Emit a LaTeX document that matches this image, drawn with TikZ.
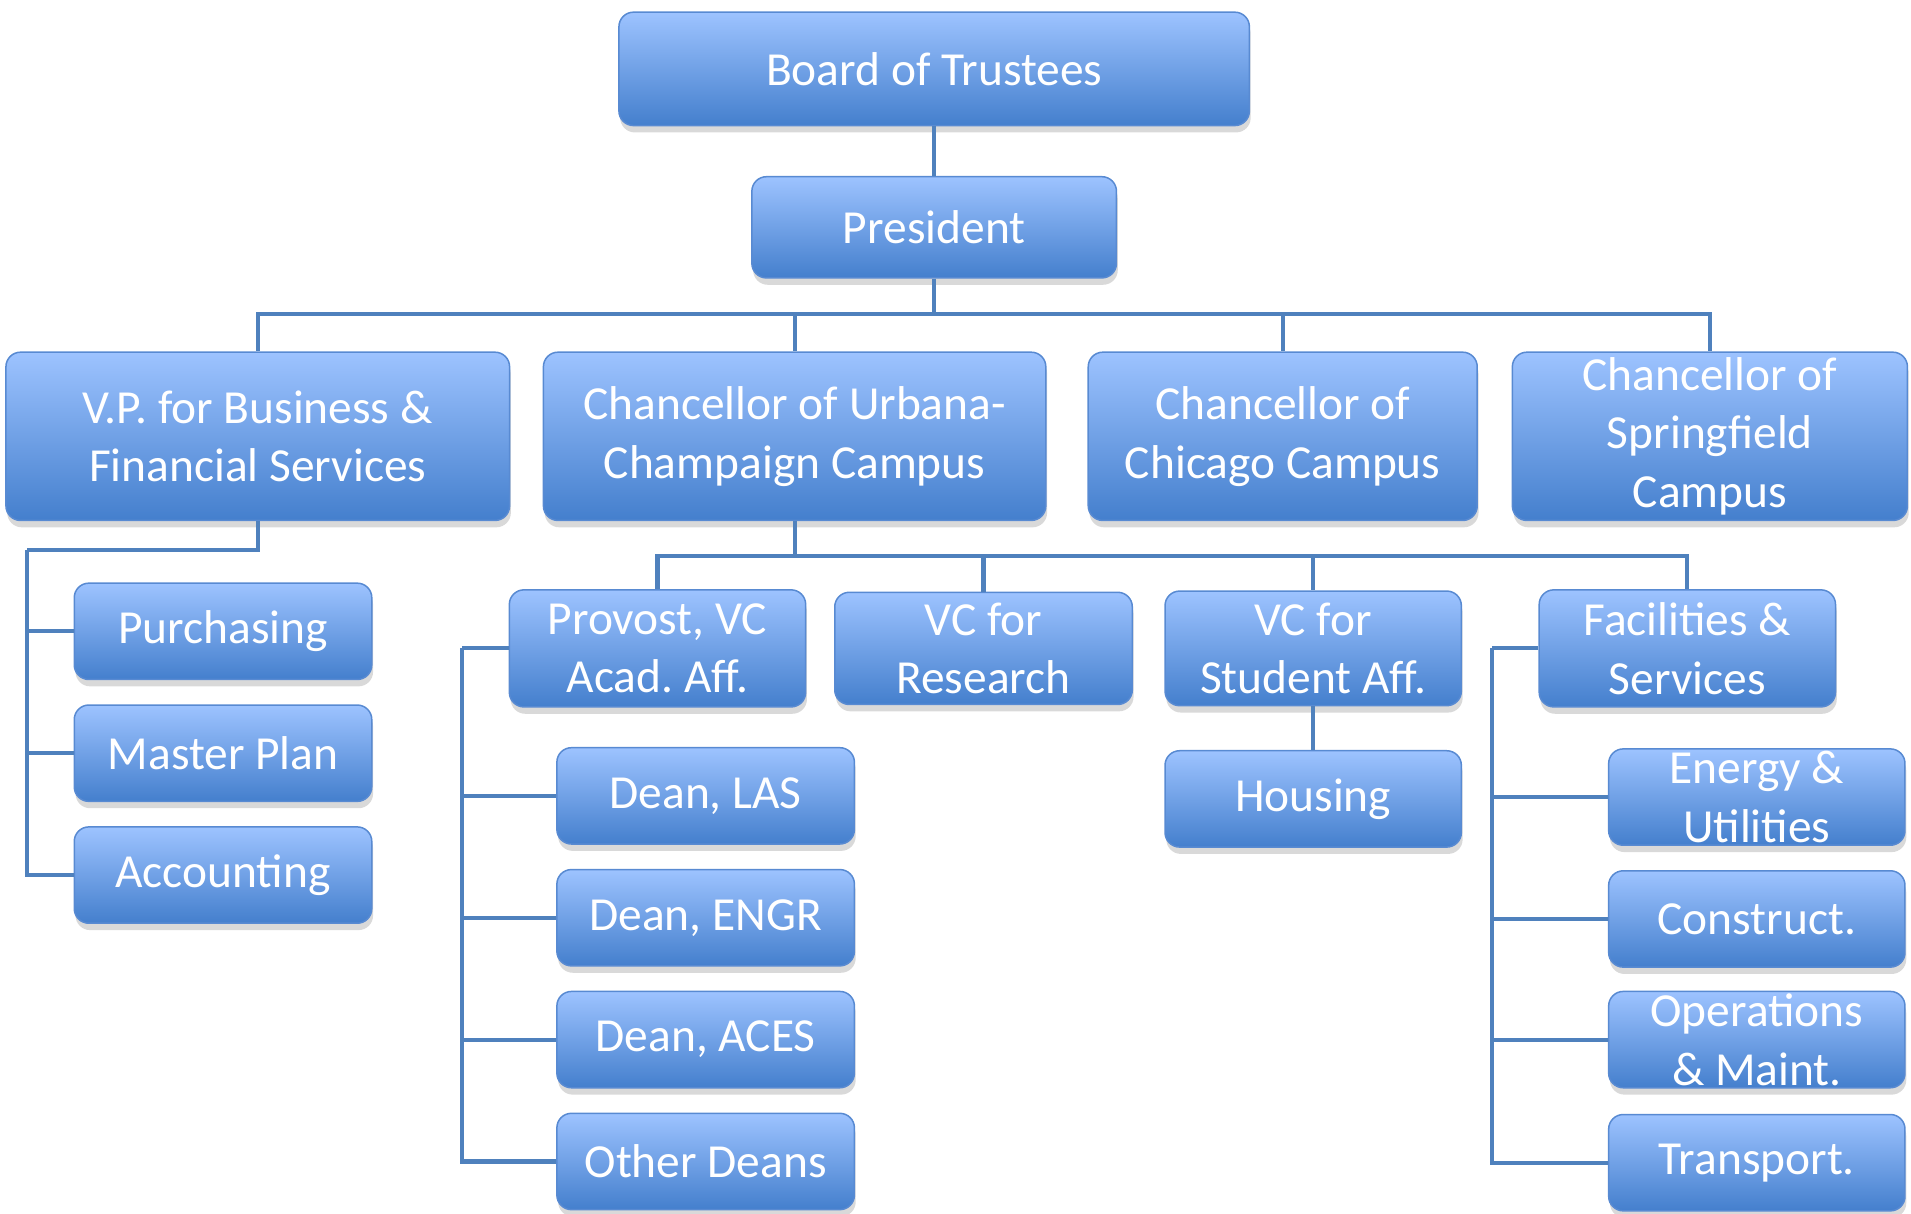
\documentclass[tikz,border=0pt]{standalone}
\usepackage{fontspec}
\setmainfont{Carlito}
\usepackage{tikz}
\usepackage{xcolor}
\usetikzlibrary{positioning, calc, shadows}
\frenchspacing

\definecolor{boxtop}{RGB}{157,195,255}
\definecolor{boxbot}{RGB}{68,127,205}
\definecolor{boxline}{RGB}{88,138,210}
\definecolor{linkblue}{RGB}{79,129,189}

\tikzset{
  unit/.style={rectangle, rounded corners=3.4pt, draw=boxline, line width=0.35pt,
    top color=boxtop, bottom color=boxbot, text=white, align=center,
    font=\fontsize{11.07pt}{13.7pt}\selectfont, inner sep=0pt,
    drop shadow={shadow xshift=0.3pt, shadow yshift=-1.6pt, opacity=0.15, fill=black}},
  link/.style={draw=linkblue, line width=0.95pt}
}

\begin{document}
\begin{tikzpicture}[x=0.01cm, y=-0.01cm]
\useasboundingbox (0,0) rectangle (1568,996);

% Top of the chart
\node[unit, minimum width=5.17cm, minimum height=0.93cm] (trust) at (766.5,56.5) {Board of Trustees};
\node[unit, minimum width=2.99cm, minimum height=0.83cm] (pres) at (766.5,186.5) {President};

% Second level
\node[unit, minimum width=4.13cm, minimum height=1.38cm] (vpbus) at (211.5,358) {V.P. for Business \&\\Financial Services};
\node[unit, minimum width=4.12cm, minimum height=1.38cm] (urbana) at (652,358) {Chancellor of Urbana-\\Champaign Campus};
\node[unit, minimum width=3.19cm, minimum height=1.38cm] (chicago) at (1052.5,358) {Chancellor of\\Chicago Campus};
\node[unit, minimum width=3.24cm, minimum height=1.38cm] (spring) at (1403,358) {Chancellor of\\Springfield\\Campus};

% Business & financial services
\node[unit, minimum width=2.44cm, minimum height=0.79cm] (purch) at (183,518) {Purchasing};
\node[unit, minimum width=2.44cm, minimum height=0.79cm] (master) at (183,618) {Master Plan};
\node[unit, minimum width=2.44cm, minimum height=0.79cm] (account) at (183,718) {Accounting};

% Urbana-Champaign
\node[unit, minimum width=2.43cm, minimum height=0.96cm] (provost) at (539.5,532) {Provost, VC\\Acad. Aff.};
\node[unit, minimum width=2.44cm, minimum height=0.92cm] (research) at (807,532) {VC for\\Research};
\node[unit, minimum width=2.43cm, minimum height=0.94cm] (student) at (1077.5,532) {VC for\\Student Aff.};
\node[unit, minimum width=2.43cm, minimum height=0.96cm] (facil) at (1384.5,532) {Facilities \&\\Services};

% Deans
\node[unit, minimum width=2.44cm, minimum height=0.79cm] (las) at (579,653) {Dean, LAS};
\node[unit, minimum width=2.44cm, minimum height=0.79cm] (engr) at (579,753) {Dean, ENGR};
\node[unit, minimum width=2.44cm, minimum height=0.79cm] (aces) at (579,853) {Dean, ACES};
\node[unit, minimum width=2.44cm, minimum height=0.79cm] (odeans) at (579,953) {Other Deans};

\node[unit, minimum width=2.43cm, minimum height=0.79cm] (housing) at (1077.5,655.5) {Housing};

% Facilities units
\node[unit, minimum width=2.43cm, minimum height=0.79cm] (energy) at (1441.5,654) {Energy \&\\Utilities};
\node[unit, minimum width=2.43cm, minimum height=0.79cm] (construct) at (1441.5,754) {Construct.};
\node[unit, minimum width=2.43cm, minimum height=0.79cm] (operat) at (1441.5,853) {Operations\\\& Maint.};
\node[unit, minimum width=2.43cm, minimum height=0.79cm] (transp) at (1441.5,954) {Transport.};

% Connectors
\coordinate (topbus) at (766.5,258);
\coordinate (urbbus) at (652,456);
\coordinate (vpleft) at (22,451);
\coordinate (provleft) at (379,532);
\coordinate (facleft) at (1224,532);

\draw[link] (trust) -- (pres);
\draw[link] (pres) -- (topbus);
\foreach \n in {vpbus, urbana, chicago, spring}
  \draw[link] (topbus) -| (\n.north);

\draw[link] (urbana) -- (urbbus);
\foreach \n in {provost, research, student, facil}
  \draw[link] (urbbus) -| (\n.north);

\draw[link] (vpbus.south) |- (vpleft);
\foreach \n in {purch, master, account}
  \draw[link] (vpleft) |- (\n.west);

\draw[link] (provost.west) -- (provleft);
\foreach \n in {las, engr, aces, odeans}
  \draw[link] (provleft) |- (\n.west);

\draw[link] (student) -- (housing);

\draw[link] (facil.west) -- (facleft);
\foreach \n in {energy, construct, operat, transp}
  \draw[link] (facleft) |- (\n.west);
\end{tikzpicture}
\end{document}
